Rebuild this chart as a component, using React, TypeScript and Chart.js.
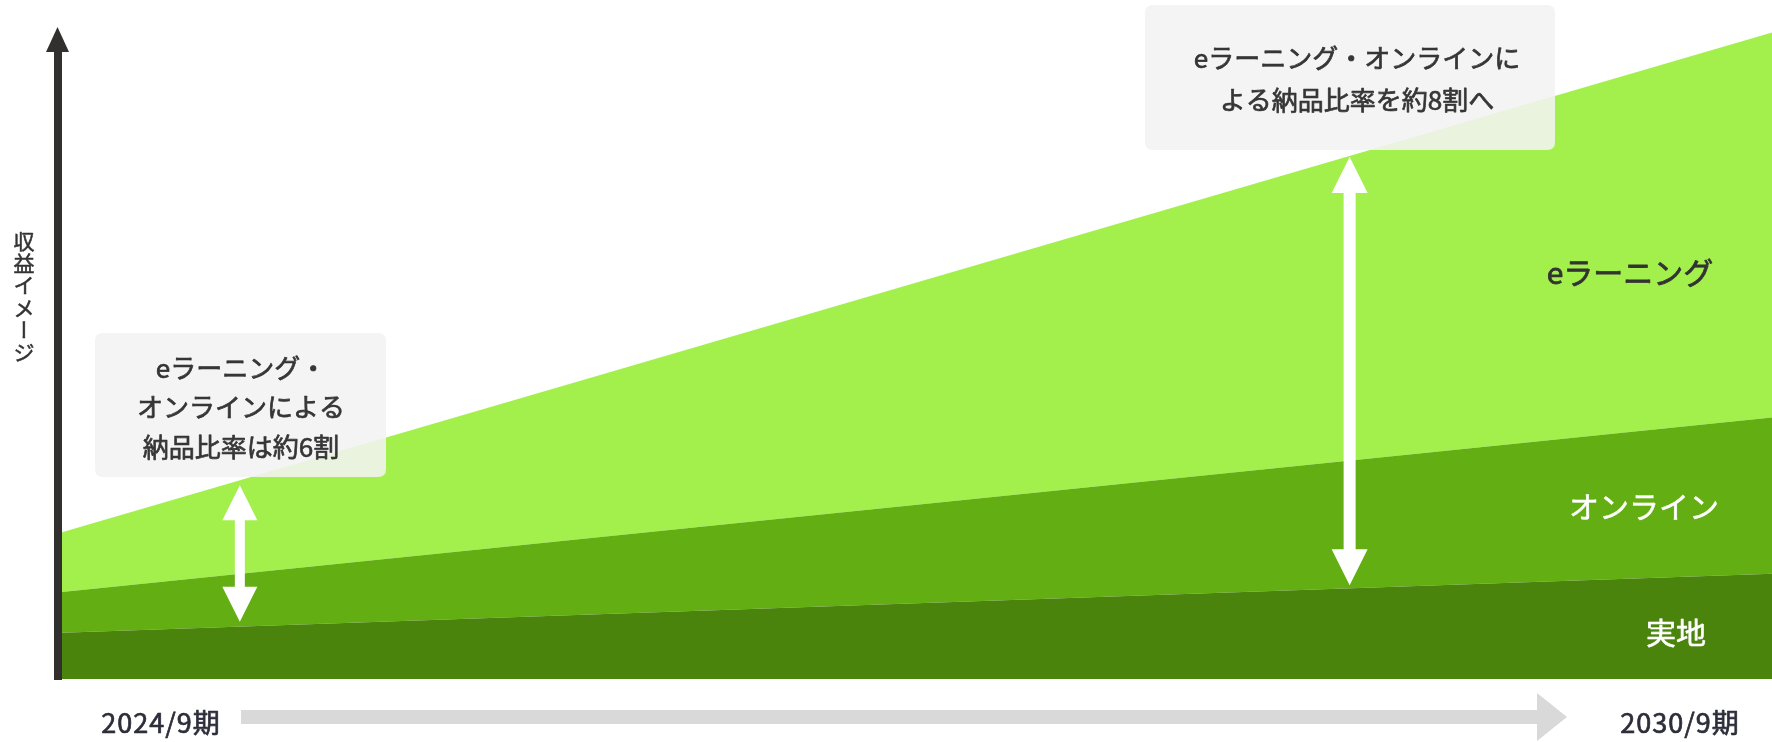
import React, { useEffect, useRef } from 'react';
import { Chart, registerables } from 'chart.js';

Chart.register(...registerables);

// ---- data ----
const periods = ['2024/9期', '2030/9期'];
const seriesNames = ['実地', 'オンライン', 'eラーニング'];
const onsiteValues = [6.8, 15.5];
const onlineValues = [6.0, 23.0];
const elearningValues = [8.8, 56.7];
const seriesColors = ['#4a840c', '#63ae12', '#a3f04d'];
const axisTitle = '収益イメージ';
const noteLeft = ['eラーニング・', 'オンラインによる', '納品比率は約6割'];
const noteRight = ['eラーニング・オンラインに', 'よる納品比率を約8割へ'];

const FONT = '"Noto Sans CJK JP", "Noto Sans", sans-serif';

function roundRect(ctx: CanvasRenderingContext2D, x: number, y: number, w: number, h: number, r: number) {
  ctx.beginPath();
  ctx.moveTo(x + r, y);
  ctx.lineTo(x + w - r, y);
  ctx.quadraticCurveTo(x + w, y, x + w, y + r);
  ctx.lineTo(x + w, y + h - r);
  ctx.quadraticCurveTo(x + w, y + h, x + w - r, y + h);
  ctx.lineTo(x + r, y + h);
  ctx.quadraticCurveTo(x, y + h, x, y + h - r);
  ctx.lineTo(x, y + r);
  ctx.quadraticCurveTo(x, y, x + r, y);
  ctx.closePath();
}

function doubleArrow(ctx: CanvasRenderingContext2D, cx: number, top: number, bottom: number, headW: number, headH: number, shaftW: number) {
  ctx.beginPath();
  ctx.moveTo(cx, top);
  ctx.lineTo(cx + headW / 2, top + headH);
  ctx.lineTo(cx + shaftW / 2, top + headH);
  ctx.lineTo(cx + shaftW / 2, bottom - headH);
  ctx.lineTo(cx + headW / 2, bottom - headH);
  ctx.lineTo(cx, bottom);
  ctx.lineTo(cx - headW / 2, bottom - headH);
  ctx.lineTo(cx - shaftW / 2, bottom - headH);
  ctx.lineTo(cx - shaftW / 2, top + headH);
  ctx.lineTo(cx - headW / 2, top + headH);
  ctx.closePath();
  ctx.fill();
}

// text with an optional thin outline in the same colour (slightly heavier weight)
function mText(ctx: CanvasRenderingContext2D, s: string, x: number, y: number, color: string, w: number) {
  ctx.fillStyle = color;
  ctx.strokeStyle = color;
  ctx.lineWidth = w;
  ctx.lineJoin = 'round';
  ctx.fillText(s, x, y);
  if (w > 0) ctx.strokeText(s, x, y);
}

const decorPlugin = {
  id: 'decor',
  afterDraw(chart: any) {
    const { ctx, chartArea: ca, scales } = chart;
    const yS = scales.y;
    const lerp = (a: number[], t: number) => a[0] + (a[1] - a[0]) * t;
    const xAt = (t: number) => ca.left + t * (ca.right - ca.left);
    const totalAt = (t: number) => lerp(onsiteValues, t) + lerp(onlineValues, t) + lerp(elearningValues, t);

    ctx.save();

    // note boxes
    ctx.fillStyle = 'rgba(242,242,242,0.88)';
    roundRect(ctx, 95, 333, 291, 144, 8);
    ctx.fill();
    roundRect(ctx, 1145, 5, 410, 145, 8);
    ctx.fill();

    ctx.font = `26px ${FONT}`;
    ctx.textAlign = 'center';
    ctx.textBaseline = 'middle';
    noteLeft.forEach((s, i) => mText(ctx, s, 241, 368 + i * 39.5, '#363636', 0.7));
    noteRight.forEach((s, i) => mText(ctx, s, 1357, 58 + i * 42, '#363636', 0.7));

    // double arrows spanning eラーニング + オンライン share
    ctx.fillStyle = '#ffffff';
    const tL = 0.104;
    doubleArrow(ctx, xAt(tL), yS.getPixelForValue(totalAt(tL)) + 5, yS.getPixelForValue(lerp(onsiteValues, tL)) - 5, 35, 35, 10);
    const tR = 0.753;
    doubleArrow(ctx, xAt(tR), yS.getPixelForValue(totalAt(tR)) + 1, yS.getPixelForValue(lerp(onsiteValues, tR)) - 3, 36, 36, 12);

    // series labels
    ctx.font = `30px ${FONT}`;
    mText(ctx, seriesNames[2], 1630, 273, '#333333', 0.8);
    mText(ctx, seriesNames[1], 1644, 507, '#ffffff', 0.5);
    mText(ctx, seriesNames[0], 1676, 633, '#ffffff', 0.6);

    // y axis with arrow
    ctx.fillStyle = '#322f2f';
    ctx.fillRect(54, 50, 8, ca.bottom + 1 - 50);
    ctx.beginPath();
    ctx.moveTo(57.5, 27);
    ctx.lineTo(69, 52);
    ctx.lineTo(46, 52);
    ctx.closePath();
    ctx.fill();

    // time arrow
    ctx.fillStyle = '#d9d9d9';
    ctx.fillRect(241, 710, 1297, 14);
    ctx.beginPath();
    ctx.moveTo(1537, 693);
    ctx.lineTo(1567, 717);
    ctx.lineTo(1537, 741);
    ctx.closePath();
    ctx.fill();

    // period labels
    ctx.font = `27px ${FONT}`;
    (ctx as any).letterSpacing = '1px';
    mText(ctx, periods[0], 161, 723, '#2e2e3b', 0.7);
    mText(ctx, periods[1], 1680, 723, '#2e2e3b', 0.7);
    (ctx as any).letterSpacing = '0px';

    // vertical axis title
    ctx.font = `21px ${FONT}`;
    const chars = Array.from(axisTitle);
    chars.forEach((c, i) => {
      const cy = 241 + i * 22.2;
      if (c === 'ー') {
        ctx.save();
        ctx.translate(24, cy);
        ctx.rotate(Math.PI / 2);
        mText(ctx, c, 0, 0, '#333333', 0.5);
        ctx.restore();
      } else {
        mText(ctx, c, 24, cy, '#333333', 0.5);
      }
    });

    ctx.restore();
  },
};

export default function App() {
  const ref = useRef<HTMLCanvasElement | null>(null);
  useEffect(() => {
    if (!ref.current) return;
    const ds = (label: string, data: number[], color: string, fill: any) => ({
      label,
      data,
      backgroundColor: color,
      borderColor: color,
      borderWidth: 0,
      pointRadius: 0,
      fill,
      tension: 0,
    });
    const chart = new Chart(ref.current, {
      type: 'line',
      data: {
        labels: periods,
        datasets: [
          ds(seriesNames[0], onsiteValues, seriesColors[0], 'origin'),
          ds(seriesNames[1], onlineValues, seriesColors[1], '-1'),
          ds(seriesNames[2], elearningValues, seriesColors[2], '-1'),
        ],
      },
      options: {
        animation: false,
        responsive: false,
        maintainAspectRatio: false,
        devicePixelRatio: 1,
        layout: { padding: { left: 62, right: 0, top: 0, bottom: 63 } },
        plugins: { legend: { display: false }, tooltip: { enabled: false } },
        scales: {
          x: { display: false, offset: false },
          y: { display: false, stacked: true, min: 0, max: 100 },
        },
      },
      plugins: [decorPlugin],
    });
    return () => chart.destroy();
  }, []);
  return (
    <div style={{ position: 'fixed', left: 0, top: 0, width: 1772, height: 742, background: '#ffffff' }}>
      <canvas ref={ref} width={1772} height={742} style={{ display: 'block', width: 1772, height: 742 }} />
    </div>
  );
}
